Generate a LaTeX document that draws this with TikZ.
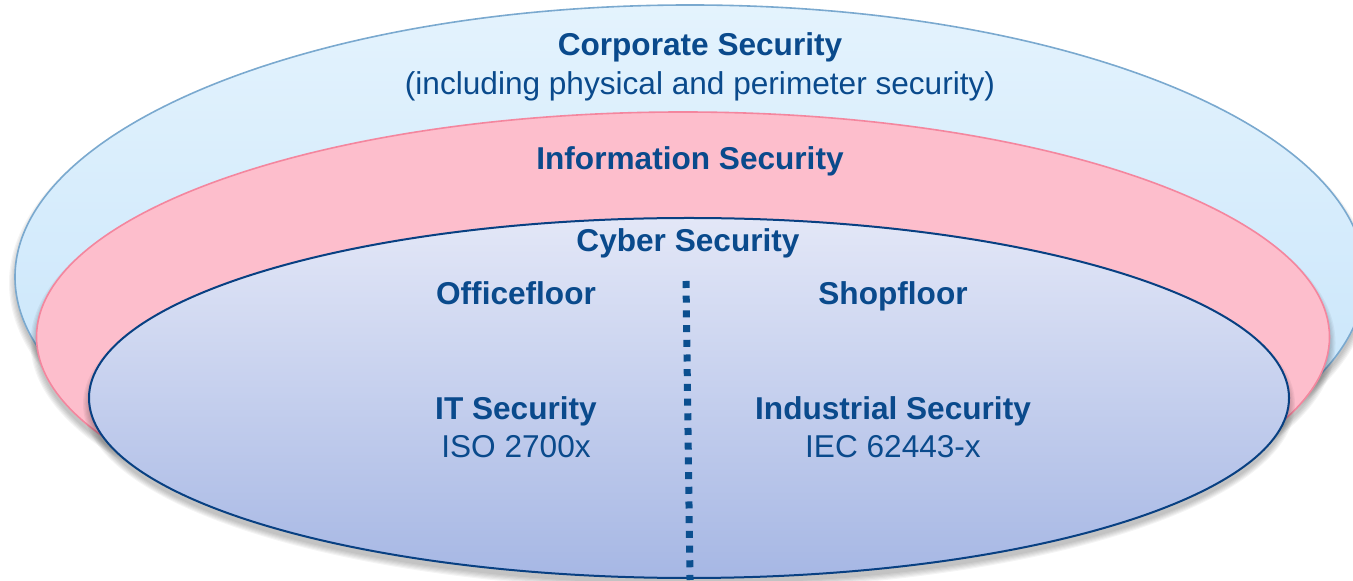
\documentclass[tikz,border=0pt]{standalone}
\usepackage{fontspec}
\setmainfont{Liberation Sans}
\definecolor{txtblue}{RGB}{10,74,140}
\definecolor{outerTop}{RGB}{228,243,253}
\definecolor{outerBot}{RGB}{192,225,250}
\definecolor{outerLine}{RGB}{122,169,207}
\definecolor{pinkFill}{RGB}{253,190,204}
\definecolor{pinkLine}{RGB}{244,134,158}
\definecolor{innerTop}{RGB}{227,231,247}
\definecolor{innerBot}{RGB}{166,183,228}
\definecolor{innerLine}{RGB}{8,64,130}
\definecolor{dotBlue}{RGB}{11,79,143}
\tikzset{
  boldtxt/.style={text=txtblue, font=\fontsize{15.8pt}{18pt}\selectfont\bfseries, inner sep=0pt, anchor=base},
  normtxt/.style={text=txtblue, font=\fontsize{15.8pt}{18pt}\selectfont, inner sep=0pt, anchor=base},
  shadowlayer/.style={fill=black, opacity=0.045},
  divider/.style={draw=dotBlue, line width=3.5pt, dash pattern=on 3.5pt off 3.85pt, line cap=butt}
}
\begin{document}
\begin{tikzpicture}[x=0.5pt,y=-0.5pt]
\useasboundingbox (0,0) rectangle (1353,581);
\clip (0,0) rectangle (1353,581);
% outer ellipse (Corporate Security)
\foreach \k in {0,...,5} {
  \fill[shadowlayer] (690,283) ellipse [x radius={337.5pt+\k*0.6pt}, y radius={136pt+\k*0.6pt}];
}
\path[draw=outerLine, line width=0.8pt, top color=outerTop, bottom color=outerBot]
  (690,277) ellipse [x radius=337.5pt, y radius=136pt];
% pink ellipse (Information Security)
\foreach \k in {0,...,5} {
  \fill[shadowlayer] (683,343) ellipse [x radius={323.25pt+\k*0.6pt}, y radius={112.5pt+\k*0.6pt}];
}
\path[draw=pinkLine, line width=0.8pt, fill=pinkFill]
  (683,337) ellipse [x radius=323.25pt, y radius=112.5pt];
% inner ellipse (Cyber Security)
\foreach \k in {0,...,5} {
  \fill[shadowlayer] (689,404) ellipse [x radius={300pt+\k*0.6pt}, y radius={90pt+\k*0.6pt}];
}
\path[draw=innerLine, line width=1pt, top color=innerTop, bottom color=innerBot]
  (689,398) ellipse [x radius=300pt, y radius=90pt];
% divider
\coordinate (dtop) at (686,281);
\coordinate (dbot) at (690,580);
\draw[divider] (dtop) -- (dbot);
% texts
\node[boldtxt] (corp) at (700,56) {Corporate Security};
\node[normtxt] (corpsub) at (700,95) {(including physical and perimeter security)};
\node[boldtxt] (info) at (690,170) {Information Security};
\node[boldtxt] (cyber) at (688,252) {Cyber Security};
\node[boldtxt] (office) at (516,305) {Officefloor};
\node[boldtxt] (shop) at (893,305) {Shopfloor};
\node[boldtxt] (itsec) at (516,420) {IT Security};
\node[normtxt] (iso) at (516,458) {ISO 2700x};
\node[boldtxt] (indsec) at (893,420) {Industrial Security};
\node[normtxt] (iec) at (893,458) {IEC 62443-x};
\end{tikzpicture}
\end{document}
